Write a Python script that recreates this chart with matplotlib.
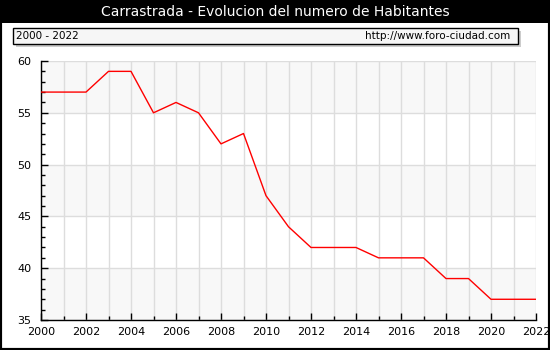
import matplotlib
matplotlib.use("Agg")
import matplotlib.pyplot as plt
from matplotlib.patches import Rectangle
from matplotlib.ticker import MultipleLocator

years = list(range(2000, 2023))
habitantes = [57, 57, 57, 59, 59, 55, 56, 55, 52, 53, 47, 44, 42, 42, 42,
              41, 41, 41, 39, 39, 37, 37, 37]
title = "Carrastrada - Evolucion del numero de Habitantes"
range_label = "2000 - 2022"
site_label = "http://www.foro-ciudad.com"

W, H = 550, 350
fig = plt.figure(figsize=(W / 100, H / 100), dpi=100)
fig.patch.set_facecolor("white")

def px(x, y, w, h):
    return (x / W, 1 - (y + h) / H, w / W, h / H)

# outer frame and title bar
fig.patches.append(Rectangle((0, 0), 1, 1, transform=fig.transFigure,
                             facecolor="none", edgecolor="black", lw=3, zorder=0))
x0, y0, w0, h0 = px(0, 0, 550, 23)
fig.patches.append(Rectangle((x0, y0), w0, h0, transform=fig.transFigure,
                             facecolor="black", edgecolor="none", zorder=1))
fig.text(0.5, 1 - 11.5 / H, title, color="white", ha="center", va="center",
         fontsize=10, family="DejaVu Sans")

# info box with shadow
sx, sy, sw, sh = px(16, 31, 505, 16)
fig.patches.append(Rectangle((sx, sy), sw, sh, transform=fig.transFigure,
                             facecolor="#cccccc", edgecolor="none", zorder=1))
bx, by, bw, bh = px(13, 28, 505, 16)
fig.patches.append(Rectangle((bx, by), bw, bh, transform=fig.transFigure,
                             facecolor="#f6f6f6", edgecolor="black", lw=1, zorder=2))
fig.text(16 / W, 1 - 36 / H, range_label, ha="left", va="center", fontsize=7.5, zorder=3)
fig.text(510 / W, 1 - 36 / H, site_label, ha="right", va="center", fontsize=7.5, zorder=3)

ax = fig.add_axes([41 / W, 1 - 320 / H, (536 - 41) / W, (320 - 61) / H])
ax.set_xlim(2000, 2022)
ax.set_ylim(35, 60)
ax.set_facecolor("white")
for lo in range(35, 60, 10):
    ax.axhspan(lo, lo + 5, color="#f8f8f8", zorder=0, lw=0)

ax.xaxis.set_major_locator(MultipleLocator(2))
ax.xaxis.set_minor_locator(MultipleLocator(1))
ax.yaxis.set_major_locator(MultipleLocator(5))
ax.yaxis.set_minor_locator(MultipleLocator(1))
ax.grid(True, which="major", color="#dddddd", lw=1, zorder=1)
ax.grid(True, which="minor", axis="x", color="#dddddd", lw=1, zorder=1)
ax.set_axisbelow(True)

ax.plot(years, habitantes, color="red", lw=1, zorder=3)

for s in ["top", "right"]:
    ax.spines[s].set_visible(False)
for s in ["left", "bottom"]:
    ax.spines[s].set_linewidth(1)
    ax.spines[s].set_color("black")
ax.tick_params(which="major", direction="in", length=5, width=1, labelsize=8)
ax.tick_params(which="minor", direction="in", length=3, width=1)
ax.tick_params(axis="x", which="both", direction="in", pad=5)
ax.tick_params(axis="y", which="major", pad=7)
for lbl in ax.get_yticklabels():
    lbl.set_verticalalignment("center_baseline")

fig.savefig("out.png", dpi=100, facecolor="white")
